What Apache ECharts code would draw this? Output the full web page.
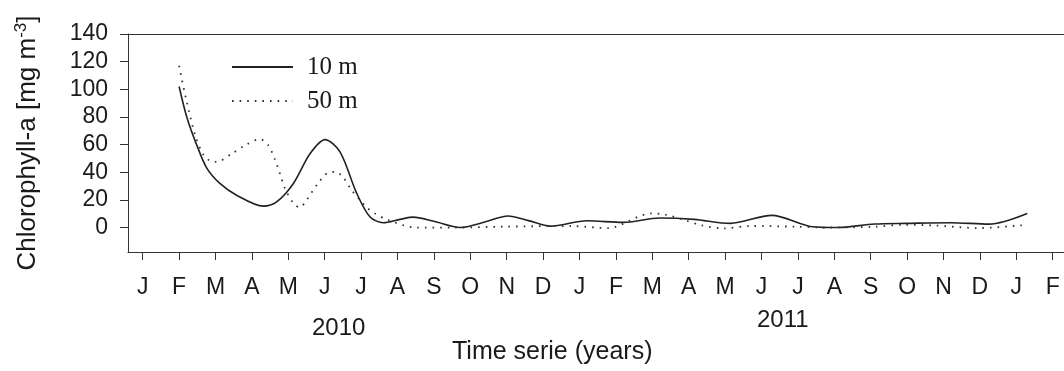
<!DOCTYPE html>
<html>
<head>
<meta charset="utf-8">
<script src="https://cdn.jsdelivr.net/npm/echarts@6/dist/echarts.min.js"></script>
<style>
  html, body {margin: 0; padding: 0; background: #fff;}
  #chart {width: 1064px; height: 371px;}
</style>
</head>
<body>
<div id="chart"></div>
<script>
// Chlorophyll-a at 10 m and 50 m, Feb 2010 – Jan 2012.
// x is a month index: 0 = January 2010, 12 = January 2011, ...

const MONTH_LABELS = ["J", "F", "M", "A", "M", "J", "J", "A", "S", "O", "N", "D",
  "J", "F", "M", "A", "M", "J", "J", "A", "S", "O", "N", "D", "J", "F"]
const MONTH_TICKS = MONTH_LABELS.map((_, i) => i)
const Y_TICKS = [0, 20, 40, 60, 80, 100, 120, 140]

const months10 = [1.0, 1.21, 1.48, 1.76, 2.12, 2.58, 3.31, 3.68, 4.14, 4.6, 5.01, 5.42, 5.88, 6.24, 6.61,
  7.07, 7.43, 8.0, 8.72, 9.4, 10.03, 10.6, 11.2, 12.2, 13.2, 14.2, 15.15, 16.14, 17.28, 18.4, 19.1,
  20.1, 21.0, 22.2, 23.25, 24.3]
const chl10 = [102, 80, 60, 43, 31.9, 23.4, 15.5, 18.6, 31.9, 53.5, 63.6, 54.7, 24.7, 7.8, 3.5,
  5.9, 7.5, 4.5, 0, 4, 8.3, 5, 1, 4.9, 3.7, 6.9, 5.9, 3, 8.8, 0.6, 0,
  2.5, 3, 3.5, 2.5, 10.2]

const months50 = [1.0, 1.2, 1.45, 1.66, 1.85, 2.03, 2.45, 2.86, 3.22, 3.45, 3.64, 3.77, 3.91, 4.14, 4.32,
  4.5, 4.78, 5.1, 5.3, 5.51, 5.74, 5.97, 6.15, 6.38, 6.75, 7.5, 8.5, 9.9, 11.15, 11.8, 12.78,
  13.97, 14.36, 14.95, 15.35, 15.94, 16.73, 17.92, 18.7, 20.09, 20.9, 21.77, 22.96, 24.15]
const chl50 = [117, 92, 66, 53, 48.2, 47.5, 53.5, 60.2, 63.9, 59.5, 48.7, 39, 28.3, 17.5, 14.6,
  19.8, 30.7, 39.8, 40.3, 36.2, 27, 19.8, 14.6, 10.2, 5.4, 0, 0, 0.6, 1, 1, -0.4,
  10.2, 9.3, 4.9, 1.6, -0.6, 1.1, 0.6, 0, 0.6, 2, 1.5, -0.4, 1.6]

const SANS = "'Liberation Sans', Arial, sans-serif"
const SERIF = "'Liberation Serif', 'Times New Roman', serif"
const INK = "#1a1a1a"
const AXIS = "#333"

const chart = echarts.init(document.getElementById("chart"), null, {renderer: "canvas"})

chart.setOption({
  animation: false,
  backgroundColor: "#fff",
  grid: {left: 128, right: 0, top: 34, bottom: 119},
  legend: {
    orient: "vertical",
    left: 231,
    top: 54,
    padding: 0,
    itemWidth: 61,
    itemHeight: 14,
    itemGap: 8,
    itemStyle: {opacity: 0},
    textStyle: {fontFamily: SERIF, fontSize: 25, color: INK, lineHeight: 26, padding: [0, 0, 0, 9]},
    data: ["10 m", "50 m"],
  },
  xAxis: [
    {
      type: "value",
      min: -0.404,
      max: 25.31,
      axisLine: {onZero: false, lineStyle: {color: AXIS, width: 1}},
      axisTick: {show: true, length: 8, inside: false, customValues: MONTH_TICKS, lineStyle: {color: AXIS}},
      axisLabel: {
        customValues: MONTH_TICKS,
        margin: 24,
        fontFamily: SANS,
        fontSize: 23,
        color: INK,
        formatter: v => MONTH_LABELS[Math.round(v)] ?? "",
      },
      splitLine: {show: false},
    },
    {
      type: "value",
      position: "top",
      min: -0.404,
      max: 25.31,
      axisLine: {show: true, onZero: false, lineStyle: {color: AXIS, width: 1}},
      axisTick: {show: false},
      axisLabel: {show: false},
      splitLine: {show: false},
    },
  ],
  yAxis: {
    type: "value",
    min: -17.7,
    max: 140,
    name: "Chlorophyll-a [mg m{sup|-3}]",
    nameLocation: "middle",
    nameGap: 86,
    nameTextStyle: {
      fontFamily: SANS,
      fontSize: 26,
      color: INK,
      rich: {sup: {fontFamily: SANS, fontSize: 17, color: INK, verticalAlign: "top", padding: [0, 0, 12, 0]}},
    },
    axisLine: {show: true, onZero: false, lineStyle: {color: AXIS, width: 1}},
    axisTick: {show: true, length: 8, customValues: Y_TICKS, lineStyle: {color: AXIS}},
    axisLabel: {customValues: Y_TICKS, margin: 20, fontFamily: SANS, fontSize: 23, color: INK},
    splitLine: {show: false},
  },
  graphic: [
    {type: "text", left: 312, top: 316, style: {text: "2010", font: `24px ${SANS}`, fill: INK}},
    {type: "text", left: 757, top: 308, style: {text: "2011", font: `24px ${SANS}`, fill: INK}},
    {type: "text", left: 452, top: 340, style: {text: "Time serie (years)", font: `25px ${SANS}`, fill: INK}},
  ],
  series: [
    {
      name: "10 m",
      type: "line",
      data: months10.map((m, i) => [m, chl10[i]]),
      smooth: 0.3,
      symbol: "none",
      lineStyle: {color: "#222", width: 1.6, type: "solid"},
      itemStyle: {color: "#222"},
    },
    {
      name: "50 m",
      type: "line",
      data: months50.map((m, i) => [m, chl50[i]]),
      smooth: 0.3,
      symbol: "none",
      lineStyle: {color: "#333", width: 1.8, type: [1.6, 6]},
      itemStyle: {color: "#333"},
    },
  ],
})
</script>
</body>
</html>
